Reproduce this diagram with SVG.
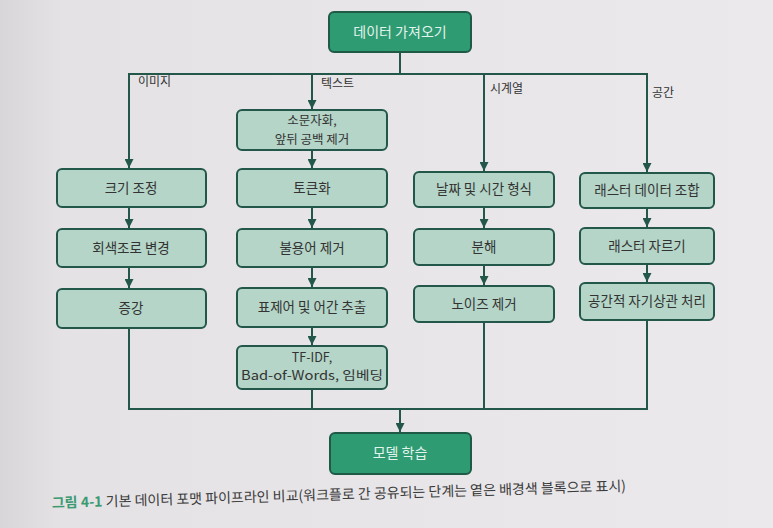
<svg xmlns="http://www.w3.org/2000/svg" width="773" height="528" viewBox="0 0 773 528">
<defs>
<linearGradient id="bg" x1="0" y1="0" x2="1" y2="0">
<stop offset="0" stop-color="#d9d6da"/>
<stop offset="0.08" stop-color="#e4e2e5"/>
<stop offset="1" stop-color="#ebe9ec"/>
</linearGradient>
<marker id="arr" viewBox="0 0 10 10" refX="10" refY="5" markerWidth="9" markerHeight="9" markerUnits="userSpaceOnUse" orient="auto">
<path d="M0,0 L10,5 L0,10 z" fill="#22574a"/>
</marker>
<style>
.lt rect{fill:#b4d5c7;stroke:#22574a;stroke-width:2}
.dk rect{fill:#2e9b73;stroke:#1f5a47;stroke-width:2}
text{font-family:"Noto Sans CJK KR","Noto Sans",sans-serif}
.lt text{font-size:13.5px;fill:#333;text-anchor:middle}
.lt text.sm{font-size:12.5px}
.dk text{font-size:14px;fill:#e4f3ec;text-anchor:middle}
.lbl{font-size:12px;fill:#333}
#connectors line{stroke:#22574a;stroke-width:2;fill:none}
.cap{font-size:14px;fill:#3a3a3a}
.capb{font-weight:bold;fill:#3b9a72}
</style>
</defs>
<rect width="773" height="528" fill="url(#bg)"/>

<g id="connectors">
<line x1="400" y1="52" x2="400" y2="74"/>
<line x1="128" y1="74" x2="648" y2="74"/>
<line x1="129" y1="74" x2="129" y2="168" marker-end="url(#arr)"/>
<line x1="312" y1="74" x2="312" y2="109" marker-end="url(#arr)"/>
<line x1="484" y1="74" x2="484" y2="171" marker-end="url(#arr)"/>
<line x1="647" y1="74" x2="647" y2="172" marker-end="url(#arr)"/>
<line x1="129" y1="207" x2="129" y2="228" marker-end="url(#arr)"/>
<line x1="129" y1="267" x2="129" y2="288" marker-end="url(#arr)"/>
<line x1="312" y1="150" x2="312" y2="168" marker-end="url(#arr)"/>
<line x1="312" y1="207" x2="312" y2="228" marker-end="url(#arr)"/>
<line x1="312" y1="267" x2="312" y2="287" marker-end="url(#arr)"/>
<line x1="312" y1="327" x2="312" y2="345" marker-end="url(#arr)"/>
<line x1="484" y1="207" x2="484" y2="228" marker-end="url(#arr)"/>
<line x1="484" y1="265" x2="484" y2="285" marker-end="url(#arr)"/>
<line x1="647" y1="208" x2="647" y2="227" marker-end="url(#arr)"/>
<line x1="647" y1="264" x2="647" y2="282" marker-end="url(#arr)"/>
<line x1="129" y1="328" x2="129" y2="409"/>
<line x1="312" y1="389" x2="312" y2="409"/>
<line x1="484" y1="322" x2="484" y2="409"/>
<line x1="647" y1="320" x2="647" y2="409"/>
<line x1="128" y1="409" x2="648" y2="409"/>
<line x1="400" y1="409" x2="400" y2="432" marker-end="url(#arr)"/>
</g>

<text class="lbl" x="138" y="86">이미지</text>
<text class="lbl" x="321" y="88">텍스트</text>
<text class="lbl" x="490" y="93">시계열</text>
<text class="lbl" x="652" y="97">공간</text>

<g id="n-load" class="dk"><rect x="329" y="12" width="142" height="40" rx="5"/><text x="400" y="37">데이터 가져오기</text></g>

<g id="n-resize" class="lt"><rect x="57" y="169" width="149" height="38" rx="5"/><text x="131" y="193">크기 조정</text></g>
<g id="n-gray" class="lt"><rect x="57" y="229" width="149" height="38" rx="5"/><text x="131" y="253">회색조로 변경</text></g>
<g id="n-aug" class="lt"><rect x="57" y="289" width="149" height="39" rx="5"/><text x="131" y="313">증강</text></g>

<g id="n-lower" class="lt"><rect x="237" y="110" width="150" height="40" rx="5"/><text class="sm" x="312" y="125">소문자화,</text><text class="sm" x="312" y="144">앞뒤 공백 제거</text></g>
<g id="n-token" class="lt"><rect x="237" y="169" width="150" height="38" rx="5"/><text x="312" y="193">토큰화</text></g>
<g id="n-stop" class="lt"><rect x="237" y="229" width="150" height="38" rx="5"/><text x="312" y="253">불용어 제거</text></g>
<g id="n-lemma" class="lt"><rect x="237" y="288" width="150" height="39" rx="5"/><text x="312" y="312">표제어 및 어간 추출</text></g>
<g id="n-tfidf" class="lt"><rect x="237" y="346" width="150" height="43" rx="5"/><text class="sm" x="312" y="362">TF-IDF,</text><text class="sm" x="312" y="380" textLength="142" lengthAdjust="spacingAndGlyphs">Bad-of-Words, 임베딩</text></g>

<g id="n-date" class="lt"><rect x="414" y="172" width="140" height="35" rx="5"/><text x="484" y="194">날짜 및 시간 형식</text></g>
<g id="n-decomp" class="lt"><rect x="414" y="229" width="140" height="36" rx="5"/><text x="484" y="252">분해</text></g>
<g id="n-noise" class="lt"><rect x="414" y="286" width="140" height="36" rx="5"/><text x="484" y="309">노이즈 제거</text></g>

<g id="n-raster" class="lt"><rect x="580" y="173" width="134" height="35" rx="5"/><text x="647" y="195">래스터 데이터 조합</text></g>
<g id="n-crop" class="lt"><rect x="580" y="228" width="134" height="36" rx="5"/><text x="647" y="251">래스터 자르기</text></g>
<g id="n-spatial" class="lt"><rect x="580" y="283" width="134" height="37" rx="5"/><text x="647" y="306">공간적 자기상관 처리</text></g>

<g id="n-train" class="dk"><rect x="330" y="433" width="141" height="41" rx="5"/><text x="400" y="458">모델 학습</text></g>

<text class="cap" x="52" y="508" transform="rotate(-1.7 52 508)"><tspan class="capb">그림 4-1</tspan> 기본 데이터 포맷 파이프라인 비교(워크플로 간 공유되는 단계는 옅은 배경색 블록으로 표시)</text>
</svg>
